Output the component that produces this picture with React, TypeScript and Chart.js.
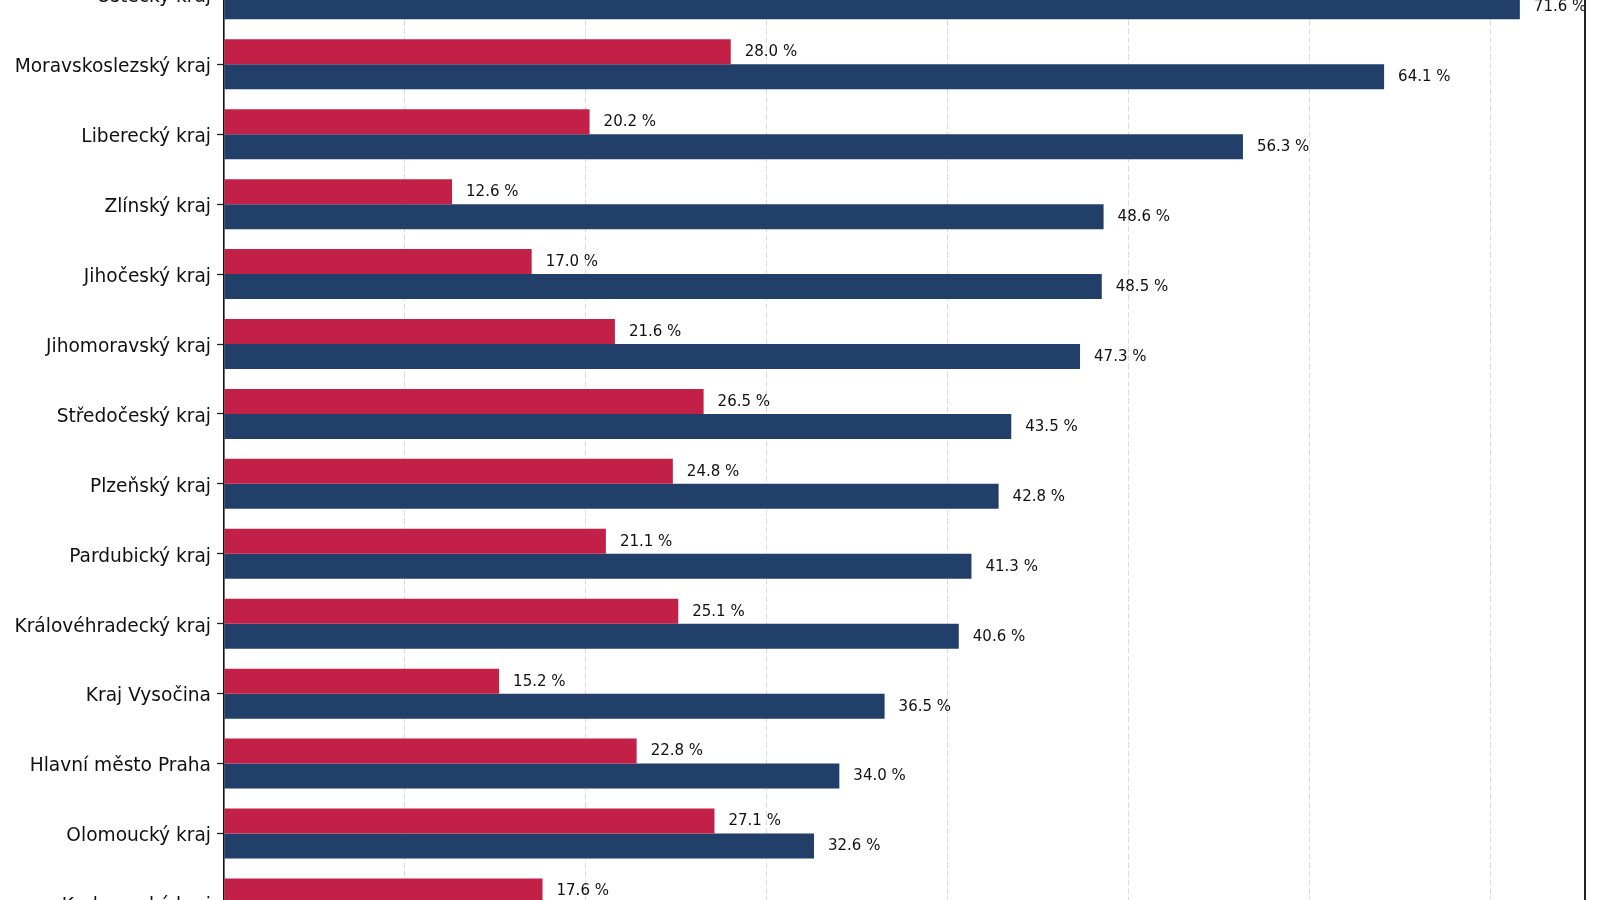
import React, { useEffect, useRef } from 'react';
import { Chart, registerables } from 'chart.js';

Chart.register(...registerables);

const categories = [
  'Ústecký kraj',
  'Moravskoslezský kraj',
  'Liberecký kraj',
  'Zlínský kraj',
  'Jihočeský kraj',
  'Jihomoravský kraj',
  'Středočeský kraj',
  'Plzeňský kraj',
  'Pardubický kraj',
  'Královéhradecký kraj',
  'Kraj Vysočina',
  'Hlavní město Praha',
  'Olomoucký kraj',
  'Karlovarský kraj',
];

const seriesRed = [30.0, 28.0, 20.2, 12.6, 17.0, 21.6, 26.5, 24.8, 21.1, 25.1, 15.2, 22.8, 27.1, 17.6];
const seriesBlue = [71.6, 64.1, 56.3, 48.6, 48.5, 47.3, 43.5, 42.8, 41.3, 40.6, 36.5, 34.0, 32.6, 30.0];

const xTickStep = 10;
const xMax = 75.2;

const FONT = '"DejaVu Sans", "Noto Sans", sans-serif';
const RED = '#c22047';
const BLUE = '#213f69';
const TEXT = '#111';

const valueLabels = {
  id: 'valueLabels',
  afterDatasetsDraw(chart: any) {
    const ctx = chart.ctx;
    ctx.save();
    ctx.font = `15px ${FONT}`;
    ctx.fillStyle = TEXT;
    ctx.textAlign = 'left';
    ctx.textBaseline = 'middle';
    chart.data.datasets.forEach((ds: any, di: number) => {
      const meta = chart.getDatasetMeta(di);
      meta.data.forEach((bar: any, i: number) => {
        const v = ds.data[i];
        ctx.fillText(`${v.toFixed(1)} %`, bar.x + 14, bar.y + 0.5);
      });
    });
    ctx.restore();
  },
};

const rightSpine = {
  id: 'rightSpine',
  afterDraw(chart: any) {
    const { ctx, chartArea } = chart;
    ctx.save();
    ctx.strokeStyle = '#222';
    ctx.lineWidth = 2;
    ctx.beginPath();
    ctx.moveTo(chartArea.right, chartArea.top);
    ctx.lineTo(chartArea.right, chartArea.bottom);
    ctx.stroke();
    ctx.restore();
  },
};

export default function App() {
  const ref = useRef<HTMLCanvasElement | null>(null);

  useEffect(() => {
    if (!ref.current) return;
    Chart.defaults.font.family = FONT;
    const chart = new Chart(ref.current, {
      type: 'bar',
      data: {
        labels: categories,
        datasets: [
          {
            label: 'A',
            data: seriesRed,
            backgroundColor: RED,
            borderWidth: 0,
            categoryPercentage: 0.715,
            barPercentage: 1.0,
          },
          {
            label: 'B',
            data: seriesBlue,
            backgroundColor: BLUE,
            borderWidth: 0,
            categoryPercentage: 0.715,
            barPercentage: 1.0,
          },
        ],
      },
      options: {
        indexAxis: 'y',
        animation: false,
        responsive: true,
        maintainAspectRatio: false,
        layout: { padding: { top: 19.4, bottom: 61.6, left: 0, right: 15 } },
        plugins: {
          legend: { display: false },
          tooltip: { enabled: false },
        },
        scales: {
          x: {
            type: 'linear',
            min: 0,
            max: xMax,
            z: 1,
            ticks: { display: false, stepSize: xTickStep },
            grid: {
              drawTicks: false,
              lineWidth: 1,
              color: (c: any) =>
                c.tick && (c.tick.value <= 0 || c.tick.value > 70.5)
                  ? 'rgba(0,0,0,0)'
                  : 'rgba(170,170,170,0.42)',
            },
            border: { display: false, dash: [6, 2.6] },
          },
          y: {
            type: 'category',
            offset: true,
            grid: {
              drawOnChartArea: false,
              offset: false,
              tickLength: 7,
              tickWidth: 1.3,
              tickColor: '#222',
            },
            border: { display: true, color: '#111', width: 1.6 },
            ticks: {
              padding: 6,
              labelOffset: 3,
              color: TEXT,
              autoSkip: false,
              font: { family: FONT, size: 18.6 },
            },
            afterFit: (scale: any) => {
              scale.width = 224;
            },
          },
        },
      },
      plugins: [valueLabels, rightSpine],
    });
    return () => chart.destroy();
  }, []);

  return (
    <div
      style={{
        position: 'fixed',
        top: 0,
        left: 0,
        width: 1600,
        height: 900,
        overflow: 'hidden',
        background: '#fff',
      }}
    >
      <div style={{ position: 'absolute', top: -60, left: 0, width: 1600, height: 1060 }}>
        <canvas ref={ref} />
      </div>
    </div>
  );
}
